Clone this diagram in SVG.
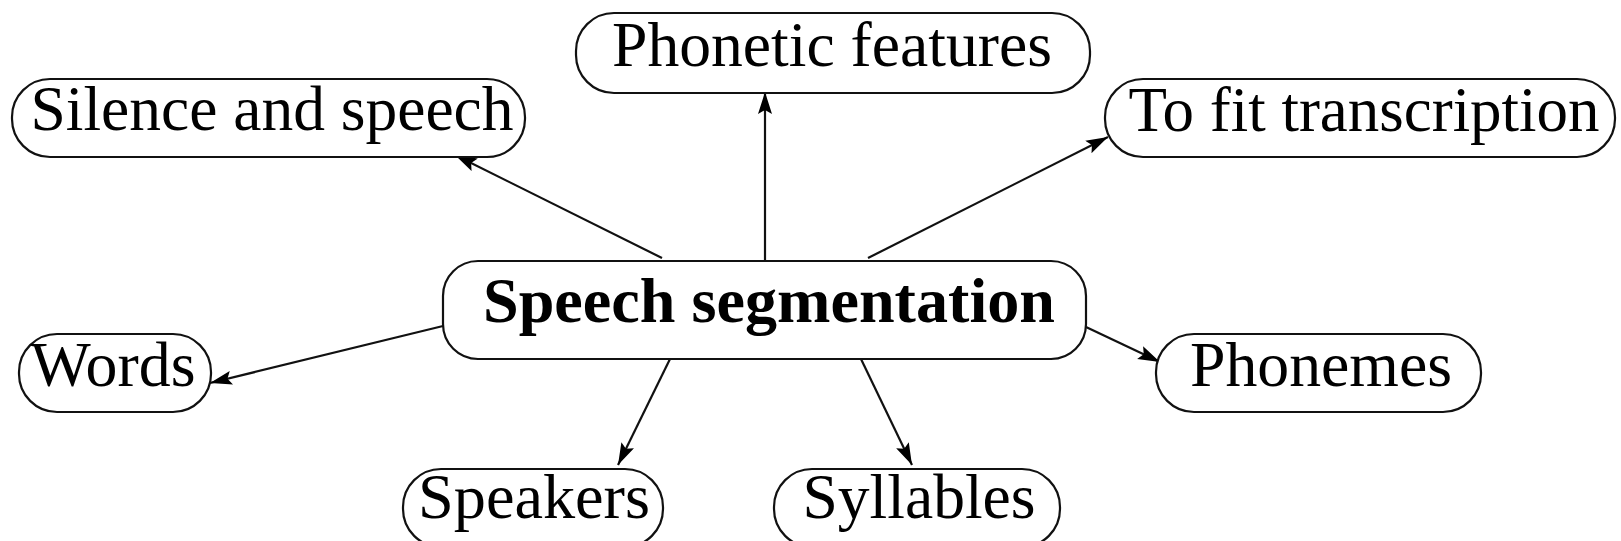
<svg xmlns="http://www.w3.org/2000/svg" width="1621" height="541" viewBox="0 0 1621 541">
<style>
.box{fill:#fff;stroke:#111;stroke-width:2.2}
.t{font-family:"Liberation Serif","Times New Roman",serif;font-size:63px;fill:#000;text-anchor:middle}
.b{font-weight:bold;font-size:64px}
.e{stroke:#111;stroke-width:2.2;fill:none;marker-end:url(#ah)}
</style>
<defs>
<marker id="ah" markerUnits="userSpaceOnUse" markerWidth="26" markerHeight="16" refX="22" refY="7" orient="auto">
<path d="M0,0 L22,7 L0,14 L4,7 Z" fill="#000"/>
</marker>
</defs>
<rect width="1621" height="541" fill="#fff"/>
<g id="connectors">
<line class="e" x1="662" y1="258" x2="455" y2="155"/>
<line class="e" x1="765" y1="261" x2="765" y2="92"/>
<line class="e" x1="868" y1="258" x2="1108" y2="137"/>
<line class="e" x1="443" y1="326" x2="210" y2="383"/>
<line class="e" x1="1086" y1="327" x2="1160" y2="362"/>
<line class="e" x1="670" y1="359" x2="618" y2="465"/>
<line class="e" x1="861" y1="359" x2="912" y2="465"/>
</g>
<g id="silence"><rect class="box" x="12" y="79" width="513" height="78" rx="38"/><text class="t" x="272" y="130" textLength="483" lengthAdjust="spacingAndGlyphs">Silence and speech</text></g>
<g id="phonetic"><rect class="box" x="576" y="13" width="514" height="80" rx="38"/><text class="t" x="832" y="66" textLength="440" lengthAdjust="spacingAndGlyphs">Phonetic features</text></g>
<g id="transcription"><rect class="box" x="1105" y="79" width="510" height="78" rx="38"/><text class="t" x="1364" y="131" textLength="471" lengthAdjust="spacingAndGlyphs">To fit transcription</text></g>
<g id="center"><rect class="box" x="443" y="261" width="643" height="98" rx="35"/><text class="t b" x="769" y="322" textLength="572" lengthAdjust="spacingAndGlyphs">Speech segmentation</text></g>
<g id="words"><rect class="box" x="19" y="334" width="192" height="78" rx="38"/><text class="t" x="113" y="386" textLength="165" lengthAdjust="spacingAndGlyphs">Words</text></g>
<g id="phonemes"><rect class="box" x="1156" y="334" width="325" height="78" rx="38"/><text class="t" x="1321" y="386" textLength="262" lengthAdjust="spacingAndGlyphs">Phonemes</text></g>
<g id="speakers"><rect class="box" x="403" y="469" width="260" height="78" rx="38"/><text class="t" x="534" y="518" textLength="232" lengthAdjust="spacingAndGlyphs">Speakers</text></g>
<g id="syllables"><rect class="box" x="774" y="469" width="286" height="78" rx="38"/><text class="t" x="919" y="518" textLength="233" lengthAdjust="spacingAndGlyphs">Syllables</text></g>
</svg>
